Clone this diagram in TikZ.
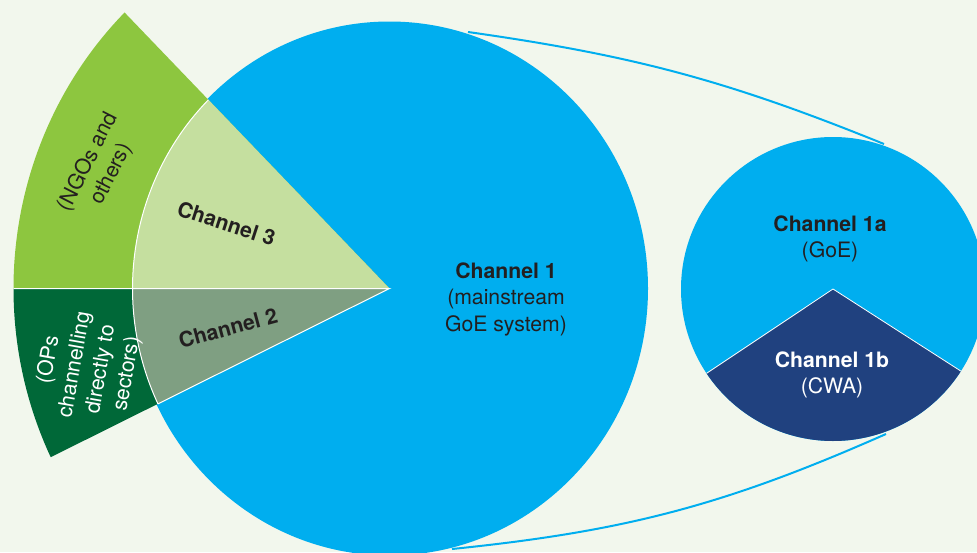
\documentclass[tikz,border=0pt]{standalone}
\usepackage{fontspec}
\setmainfont{TeX Gyre Heros}
\definecolor{bgc}{HTML}{F2F7ED}
\definecolor{cblue}{HTML}{00AEEF}
\definecolor{limeg}{HTML}{8DC63F}
\definecolor{ltgreen}{HTML}{C5DF9F}
\definecolor{dkgreen}{HTML}{006838}
\definecolor{greygreen}{HTML}{7F9F82}
\definecolor{dkblue}{HTML}{20417F}
\definecolor{ink}{HTML}{231F20}
\begin{document}
\begin{tikzpicture}[x=1pt,y=-1pt,
  lbl/.style={font=\fontsize{21.2}{26.5}\selectfont, text=ink, align=center, inner sep=0pt},
  conn/.style={draw=cblue, line width=2pt},
  sep/.style={draw=white, line width=1pt}]
\useasboundingbox (0,0) rectangle (977,552);
\fill[bgc] (0,0) rectangle (977,552);
\clip (0,0) rectangle (977,552);
% connectors
\coordinate (bigtop) at (468,32);
\coordinate (bigbot) at (452,549);
\coordinate (smalltop) at (884,144);
\coordinate (smallbot) at (886,434);
\draw[conn] (bigtop) to[bend left=7] (smalltop);
\draw[conn] (bigbot) to[bend right=9] (smallbot);
% big pie
\begin{scope}[shift={(389.5pt,-288.5pt)}]
  \fill[cblue] (0pt,0pt) ellipse [x radius=258.5pt, y radius=267pt];
  \fill[limeg] (0pt,0pt) -- (134.8:376pt and 389pt) arc[start angle=134.8, end angle=180, x radius=376pt, y radius=389pt] -- cycle;
  \fill[dkgreen] (0pt,0pt) -- (180:376pt and 389pt) arc[start angle=180, end angle=205.7, x radius=376pt, y radius=389pt] -- cycle;
  \fill[ltgreen] (0pt,0pt) -- (134.8:257pt and 266pt) arc[start angle=134.8, end angle=180, x radius=257pt, y radius=266pt] -- cycle;
  \fill[greygreen] (0pt,0pt) -- (180:257pt and 266pt) arc[start angle=180, end angle=205.7, x radius=257pt, y radius=266pt] -- cycle;
  \draw[sep] (180:376pt and 389pt) -- (0pt,0pt) -- (205.7:257pt and 266pt);
  \draw[sep] (134.8:257pt and 266pt) arc[start angle=134.8, end angle=205.7, x radius=257pt, y radius=266pt];
\end{scope}
% small pie
\begin{scope}[shift={(833pt,-289pt)}]
  \fill[cblue] (0pt,0pt) circle[radius=152pt];
  \fill[dkblue] (0pt,0pt) -- (213.7:152pt) arc[start angle=213.7, end angle=327.3, radius=152pt] -- cycle;
  \draw[white, line width=0.8pt] (213.7:152pt) -- (0pt,0pt) -- (327.3:152pt);
\end{scope}
% labels
\node[lbl] (ch1) at (506,299) {\textbf{Channel 1}\\(mainstream\\GoE system)};
\node[lbl] (ch1a) at (830,239) {\textbf{Channel 1a}\\(GoE)};
\node[lbl, text=white] (ch1b) at (832,375) {\textbf{Channel 1b}\\(CWA)};
\node[lbl, rotate=-18] (ch3) at (226.5,223.5) {\textbf{Channel 3}};
\node[lbl, rotate=15] (ch2) at (228,328) {\textbf{Channel 2}};
\node[lbl, rotate=63] (ngo) at (100,168) {(NGOs and\\others)};
\node[lbl, rotate=80, text=white] (ops) at (88,367) {(OPs\\channelling\\directly to\\sectors)};
\end{tikzpicture}
\end{document}
